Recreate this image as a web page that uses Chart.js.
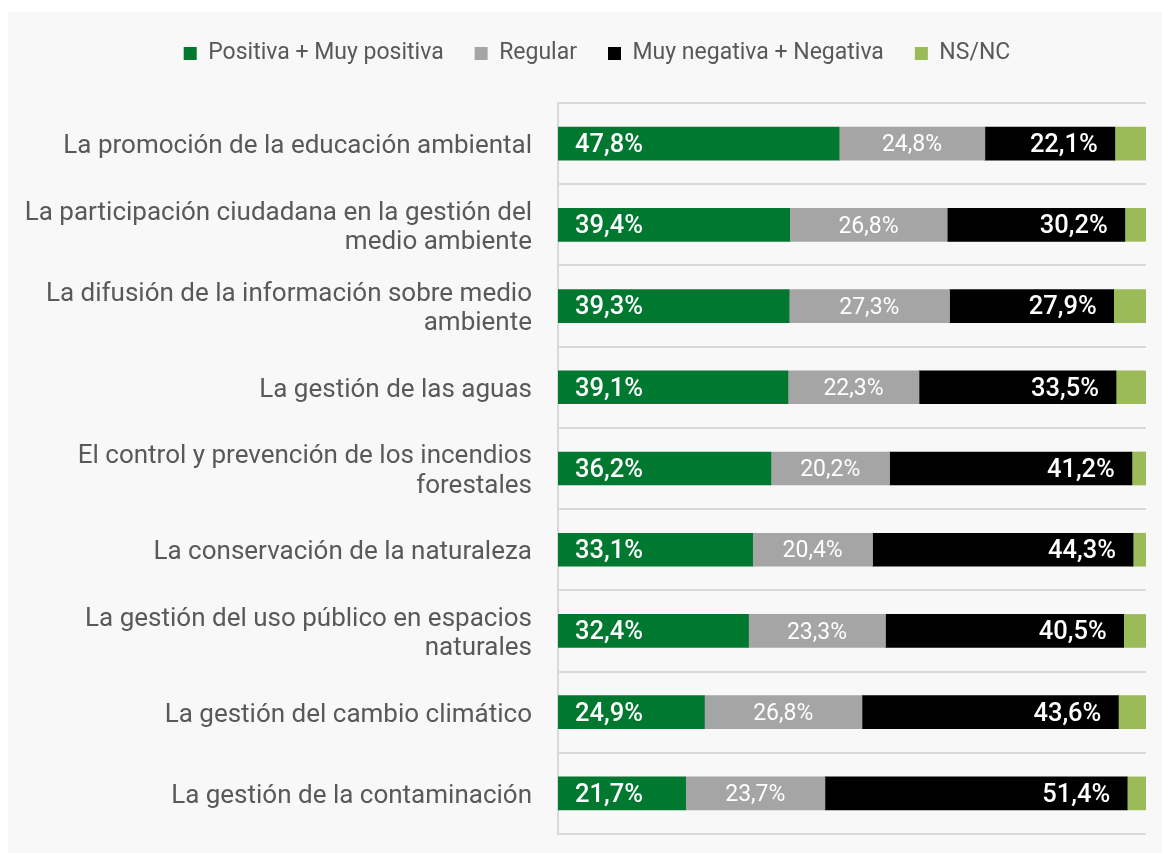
<!DOCTYPE html>
<html>
<head>
<meta charset="utf-8">
<script src="https://cdn.jsdelivr.net/npm/chart.js@4/dist/chart.umd.min.js"></script>
<style>
  html, body { margin: 0; padding: 0; background: #ffffff; }
  #wrap { position: relative; width: 1162px; height: 853px; }
</style>
</head>
<body>
<div id="wrap"><canvas id="c" width="1162" height="853"></canvas></div>
<script>
const categories = [
  "La promoción de la educación ambiental",
  ["La participación ciudadana en la gestión del", "medio ambiente"],
  ["La difusión de la información sobre medio", "ambiente"],
  "La gestión de las aguas",
  ["El control y prevención de los incendios", "forestales"],
  "La conservación de la naturaleza",
  ["La gestión del uso público en espacios", "naturales"],
  "La gestión del cambio climático",
  "La gestión de la contaminación"
];
const seriesNames = ["Positiva + Muy positiva", "Regular", "Muy negativa + Negativa", "NS/NC"];
const positiva = [47.8, 39.4, 39.3, 39.1, 36.2, 33.1, 32.4, 24.9, 21.7];
const regular  = [24.8, 26.8, 27.3, 22.3, 20.2, 20.4, 23.3, 26.8, 23.7];
const negativa = [22.1, 30.2, 27.9, 33.5, 41.2, 44.3, 40.5, 43.6, 51.4];
const nsnc     = [5.3, 3.6, 5.5, 5.1, 2.4, 2.2, 3.8, 4.7, 3.2];
const colors = ["#00782f", "#a5a5a5", "#000000", "#9bbb59"];

const FONT = "Roboto, 'Noto Sans', sans-serif";
const fmt = v => v.toFixed(1).replace(".", ",") + "%";

const panelBg = {
  id: "panelBg",
  beforeDraw(chart) {
    const ctx = chart.ctx;
    ctx.save();
    ctx.fillStyle = "#f8f8f8";
    ctx.fillRect(8, 12, 1162 - 8, 853 - 12);
    ctx.restore();
  }
};

const legendSpacer = {
  id: "legendSpacer",
  beforeInit(chart) {
    const orig = chart.legend.fit;
    chart.legend.fit = function () {
      orig.bind(chart.legend)();
      this.height += 28;
    };
  },
  afterLayout(chart) {
    const lg = chart.legend;
    const shift = 597 - (lg.left + lg.right) / 2;
    lg.left += shift;
    lg.right += shift;
  }
};

const barLabels = {
  id: "barLabels",
  afterDatasetsDraw(chart) {
    const ctx = chart.ctx;
    ctx.save();
    ctx.fillStyle = "#ffffff";
    ctx.textBaseline = "middle";
    [0, 1, 2].forEach(di => {
      const meta = chart.getDatasetMeta(di);
      const data = chart.data.datasets[di].data;
      meta.data.forEach((bar, i) => {
        const left = Math.min(bar.x, bar.base);
        const right = Math.max(bar.x, bar.base);
        const txt = fmt(data[i]);
        if (di === 0) {
          ctx.font = "500 25.5px " + FONT;
          ctx.textAlign = "left";
          ctx.fillText(txt, left + 17, bar.y + 2);
        } else if (di === 1) {
          ctx.font = "400 23px " + FONT;
          ctx.textAlign = "center";
          ctx.fillText(txt, (left + right) / 2, bar.y + 2);
        } else {
          ctx.font = "500 25.5px " + FONT;
          ctx.textAlign = "right";
          ctx.fillText(txt, right - 17, bar.y + 2);
        }
      });
    });
    ctx.restore();
  }
};

const seriesData = [positiva, regular, negativa, nsnc];
new Chart(document.getElementById("c"), {
  type: "bar",
  data: {
    labels: categories,
    datasets: seriesNames.map((name, k) => ({
      label: name,
      data: seriesData[k],
      backgroundColor: colors[k],
      borderWidth: 0,
      barThickness: 33
    }))
  },
  options: {
    indexAxis: "y",
    responsive: false,
    animation: false,
    layout: { padding: { top: 11, left: 10, right: 16, bottom: 19 } },
    plugins: {
      legend: {
        position: "top",
        align: "center",
        labels: {
          boxWidth: 13,
          boxHeight: 13,
          padding: 31,
          color: "#595959",
          font: { family: FONT, size: 23 }
        }
      },
      tooltip: { enabled: false }
    },
    scales: {
      x: {
        stacked: true,
        display: false,
        min: 0,
        max: 100
      },
      y: {
        stacked: true,
        afterFit(scale) {
          scale.width = 548;
          scale.paddingTop = 0;
          scale.paddingBottom = 0;
        },
        grid: {
          color: "#d9d9d9",
          lineWidth: 2,
          drawTicks: false,
          offset: true
        },
        border: { color: "#d9d9d9", width: 2 },
        ticks: {
          padding: 26,
          labelOffset: 3,
          color: "#595959",
          font: { family: FONT, size: 26, lineHeight: 1.12 }
        }
      }
    }
  },
  plugins: [panelBg, legendSpacer, barLabels]
});
</script>
</body>
</html>
